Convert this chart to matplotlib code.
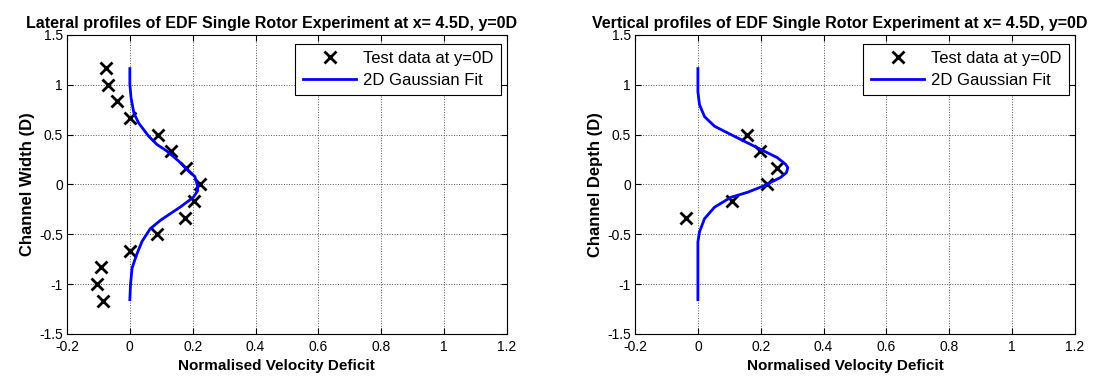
import matplotlib
matplotlib.use('Agg')
import matplotlib.pyplot as plt
from matplotlib.ticker import FormatStrFormatter

plt.rcParams['font.family'] = ['Liberation Sans', 'DejaVu Sans']
plt.rcParams['axes.unicode_minus'] = False

# lateral profile (y positions in rotor diameters)
lat_test_y = [1.167, 1.0, 0.833, 0.667, 0.5, 0.333, 0.167, 0.0,
              -0.167, -0.333, -0.5, -0.667, -0.833, -1.0, -1.167]
lat_test_u = [-0.075, -0.069, -0.042, 0.0, 0.089, 0.132, 0.179, 0.223,
              0.205, 0.177, 0.088, 0.0, -0.091, -0.103, -0.084]
lat_fit_y = [1.162, 1.003, 0.864, 0.715, 0.616, 0.483, 0.401, 0.334, 0.235,
             0.136, 0.079, -0.013, -0.063, -0.129, -0.228, -0.295, -0.361,
             -0.444, -0.570, -0.709, -0.841, -1.007, -1.156]
lat_fit_u = [0.0, 0.0, 0.004, 0.013, 0.028, 0.060, 0.086, 0.118, 0.155,
             0.186, 0.207, 0.215, 0.216, 0.202, 0.160, 0.128, 0.097,
             0.065, 0.039, 0.021, 0.007, 0.002, 0.0]

# vertical profile
ver_test_z = [0.5, 0.333, 0.167, 0.0, -0.167, -0.333]
ver_test_u = [0.156, 0.197, 0.251, 0.219, 0.107, -0.037]
ver_fit_z = [1.162, 0.93, 0.80, 0.68, 0.583, 0.5, 0.434, 0.351, 0.268, 0.202,
             0.169, 0.119, 0.07, -0.013, -0.079, -0.129, -0.228, -0.344,
             -0.477, -0.576, -1.156]
ver_fit_u = [0.0, 0.0, 0.005, 0.021, 0.053, 0.105, 0.147, 0.2, 0.253, 0.279,
             0.286, 0.282, 0.263, 0.211, 0.158, 0.105, 0.053, 0.021,
             0.005, 0.0, 0.0]

panels = [
    ('Lateral profiles of EDF Single Rotor Experiment at x= 4.5D, y=0D',
     'Channel Width (D)', lat_test_u, lat_test_y, lat_fit_u, lat_fit_y),
    ('Vertical profiles of EDF Single Rotor Experiment at x= 4.5D, y=0D',
     'Channel Depth (D)', ver_test_u, ver_test_z, ver_fit_u, ver_fit_z),
]

fig = plt.figure(figsize=(11.11, 3.83), dpi=100)
lefts = [0.0603, 0.5716]

for left, (title, ylabel, tu, ty, fu, fy) in zip(lefts, panels):
    ax = fig.add_axes([left, 0.128, 0.396, 0.781])
    ax.plot(tu, ty, 'x', color='black', ms=8, mew=2, label='Test data at y=0D')
    ax.plot(fu, fy, '-', color='#0000ff', lw=2, label='2D Gaussian Fit')
    ax.set_xlim(-0.2, 1.2)
    ax.set_ylim(-1.5, 1.5)
    ax.set_xticks([-0.2, 0, 0.2, 0.4, 0.6, 0.8, 1, 1.2])
    ax.set_yticks([-1.5, -1, -0.5, 0, 0.5, 1, 1.5])
    ax.xaxis.set_major_formatter(FormatStrFormatter('%g'))
    ax.yaxis.set_major_formatter(FormatStrFormatter('%g'))
    ax.tick_params(direction='in', top=True, right=True, length=4,
                   width=0.8, labelsize=10, pad=3)
    ax.tick_params(axis='x', pad=4)
    ax.grid(True, color='#555555', ls=':', lw=0.7)
    for s in ax.spines.values():
        s.set_linewidth(0.8)
    ax.set_title(title, fontsize=11.5, fontweight='bold', pad=5, x=0.466)
    ax.set_xlabel('Normalised Velocity Deficit', fontsize=11,
                  fontweight='bold', labelpad=2)
    ax.xaxis.set_label_coords(0.477, -0.085)
    ax.set_ylabel(ylabel, fontsize=12, fontweight='bold', labelpad=3)
    leg = ax.legend(loc='upper right', bbox_to_anchor=(0.986, 0.970),
                    borderaxespad=0, fontsize=12, fancybox=False,
                    framealpha=1, edgecolor='black', handlelength=3.2,
                    handletextpad=0.4, labelspacing=0.4, borderpad=0.45)
    leg.get_frame().set_linewidth(0.8)

plt.savefig('out.png', dpi=100)
